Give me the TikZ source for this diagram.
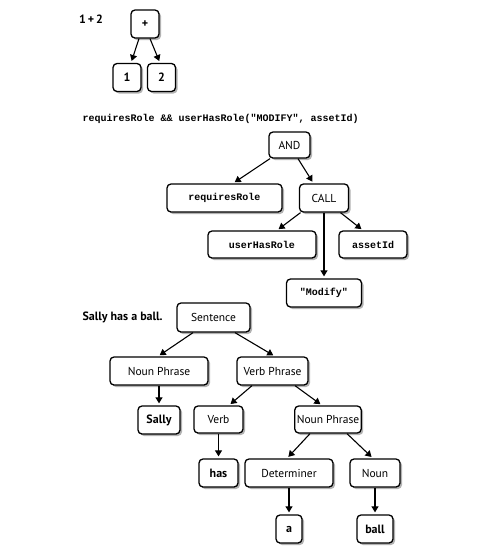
\documentclass[tikz,border=0pt]{standalone}
\usepackage{fontspec}
\setmainfont{PT Sans}
\setmonofont{Liberation Mono}
\usetikzlibrary{arrows.meta,shadows}

\begin{document}
\begin{tikzpicture}[x=1pt,y=-1pt,
  box/.style={draw,line width=1.3pt,rounded corners=4pt,fill=white,
    drop shadow={shadow xshift=2pt,shadow yshift=-2pt,fill=black!60},
    inner sep=0pt,font=\fontsize{11.5}{12}\selectfont},
  bbox/.style={box,font=\fontsize{12}{12}\selectfont\bfseries},
  cbox/.style={box,font=\fontsize{10}{12}\selectfont\ttfamily\bfseries},
  arr/.style={line width=1.1pt,-{Triangle[width=7pt,length=6pt]},shorten >=2pt}]
  \useasboundingbox (0,0) rectangle (499,557);

  % top
  %nodes
  \node[at={(91,19)},font=\fontsize{12}{12}\selectfont\bfseries] (t1) {1\,+\,2};
  \node[bbox,minimum width=28,minimum height=28,at={(145,24)}] (plus) {+};
  \node[bbox,minimum width=28,minimum height=28,at={(127,77.5)}] (one) {1};
  \node[bbox,minimum width=28,minimum height=28,at={(161.5,77.5)}] (two) {2};
  %edges
  \draw[arr] ([xshift=-6]plus.south) -- ([xshift=4]one.north);
  \draw[arr] ([xshift=5]plus.south) -- ([xshift=-1.5]two.north);

  % middle
  %nodes
  \node[anchor=west,at={(79,119)},font=\fontsize{10}{12}\selectfont\ttfamily\bfseries] (t2) {requiresRole \&\& userHasRole("MODIFY", assetId)};
  \node[box,minimum width=41,minimum height=26,at={(289.5,145)}] (and) {AND};
  \node[cbox,minimum width=115,minimum height=28,at={(224.5,198)}] (req) {requiresRole};
  \node[box,minimum width=49,minimum height=28,at={(324,198)}] (call) {CALL};
  \node[cbox,minimum width=108,minimum height=27,at={(262,244.5)}] (user) {userHasRole};
  \node[cbox,minimum width=68,minimum height=27,at={(373,244.5)}] (asset) {assetId};
  \node[cbox,minimum width=75,minimum height=28,at={(324,293)}] (modify) {"Modify"};
  %edges
  \draw[arr] ([xshift=-19.5]and.south) -- ([xshift=8.5]req.north);
  \draw[arr] ([xshift=8.5]and.south) -- ([xshift=-10.5]call.north);
  \draw[arr] ([xshift=-23.5]call.south) -- ([xshift=15]user.north);
  \draw[arr] (call.south) -- (modify.north);
  \draw[arr] ([xshift=16.5]call.south) -- ([xshift=-10]asset.north);

  % bottom
  %nodes
  \node[anchor=west,at={(79,317)},font=\fontsize{12}{12}\selectfont\bfseries] (t3) {Sally has a ball.};
  \node[box,minimum width=73,minimum height=29,at={(213.5,317.5)}] (sent) {Sentence};
  \node[box,minimum width=98,minimum height=28,at={(159,371)}] (np) {Noun Phrase};
  \node[box,minimum width=71,minimum height=28,at={(272.5,371)}] (vp) {Verb Phrase};
  \node[bbox,minimum width=42,minimum height=28,at={(159,420)}] (sally) {Sally};
  \node[box,minimum width=49,minimum height=27,at={(218.5,419.5)}] (verb) {Verb};
  \node[box,minimum width=64,minimum height=27,at={(328,419.5)},inner xsep=2pt] (np2) {Noun Phrase};
  \node[bbox,minimum width=39,minimum height=28,at={(218.5,473)}] (has) {has};
  \node[box,minimum width=88,minimum height=28,at={(289,473)}] (det) {Determiner};
  \node[box,minimum width=50,minimum height=28,at={(375,473)}] (noun) {Noun};
  \node[bbox,minimum width=26,minimum height=28,at={(289,529)}] (a) {a};
  \node[bbox,minimum width=36,minimum height=28,at={(375,529)}] (ball) {ball};
  %edges
  \draw[arr] ([xshift=-20.5]sent.south) -- ([xshift=-1]np.north);
  \draw[arr] ([xshift=21.5]sent.south) -- ([xshift=2.5]vp.north);
  \draw[arr] (np.south) -- (sally.north);
  \draw[arr] ([xshift=-20.5]vp.south) -- ([xshift=10.5]verb.north);
  \draw[arr] ([xshift=22.5]vp.south) -- ([xshift=-6]np2.north);
  \draw[arr] (verb.south) -- (has.north);
  \draw[arr] ([xshift=-18]np2.south) -- ([xshift=-2]det.north);
  \draw[arr] ([xshift=19]np2.south) -- ([xshift=-2]noun.north);
  \draw[arr] (det.south) -- (a.north);
  \draw[arr] (noun.south) -- (ball.north);
\end{tikzpicture}
\end{document}
